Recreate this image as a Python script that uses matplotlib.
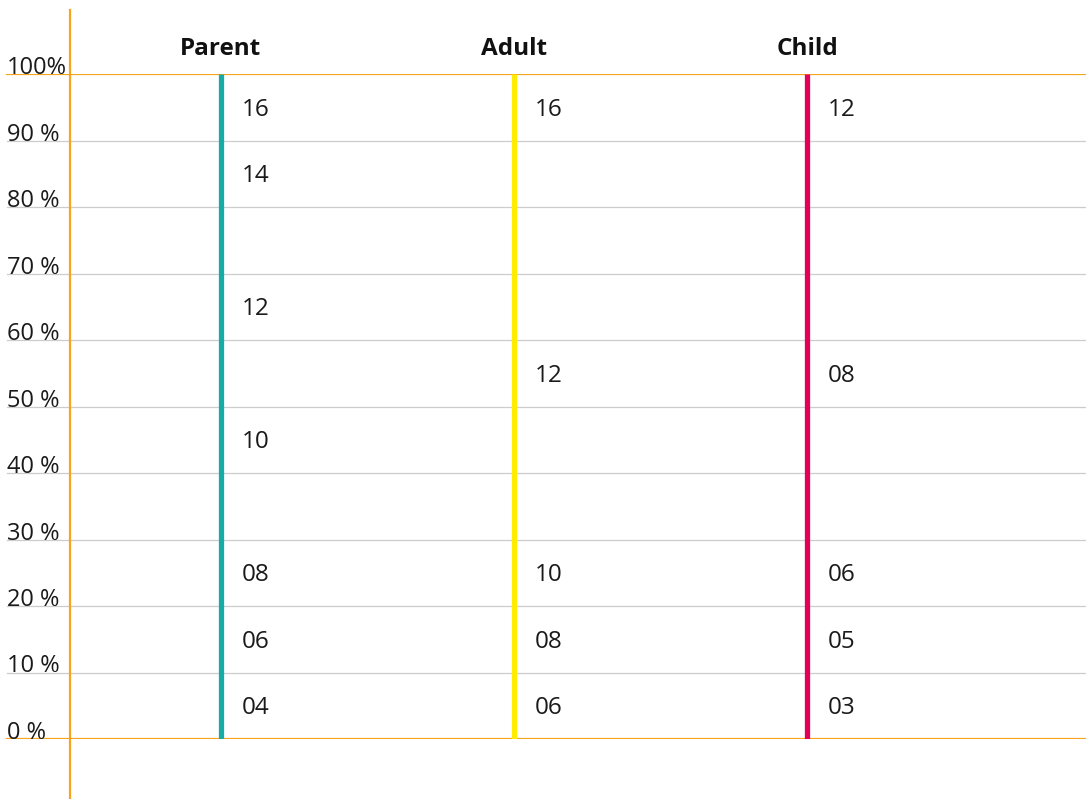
import matplotlib
matplotlib.use("Agg")
import matplotlib.pyplot as plt
from matplotlib.transforms import offset_copy

plt.rcParams['font.family'] = ['Open Sans', 'DejaVu Sans']

# Column groups and the values marked along each percentage scale
categories = ["Parent", "Adult", "Child"]
parent_pct = [5, 15, 25, 45, 65, 85, 95]
parent_labels = ["04", "06", "08", "10", "12", "14", "16"]
adult_pct = [5, 15, 25, 55, 95]
adult_labels = ["06", "08", "10", "12", "16"]
child_pct = [5, 15, 25, 55, 95]
child_labels = ["03", "05", "06", "08", "12"]
y_ticks = list(range(0, 101, 10))
y_tick_labels = [f"{t} %" for t in y_ticks[:-1]] + ["100%"]

series = [(parent_pct, parent_labels), (adult_pct, adult_labels), (child_pct, child_labels)]
colors = ["#16aba6", "#ffec00", "#e2005a"]
orange = "#f7a51c"
grid_grey = "#cccccc"
text_col = "#1a1a1a"

fig = plt.figure(figsize=(10.86, 7.99), dpi=100)
ax = fig.add_axes([0, 60 / 799, 1, 665 / 799])
ax.set_xlim(-221 / 293, (1086 - 221) / 293)
ax.set_ylim(0, 100)
ax.axis("off")

# Horizontal grid with orange bounds at 0 % and 100 %
x0 = 7 / 1086
for t in y_ticks:
    if t in (0, 100):
        ax.axhline(t, xmin=x0, xmax=1, color=orange, lw=1.6, zorder=3)
    else:
        ax.axhline(t, xmin=x0, xmax=1, color=grid_grey, lw=0.9, zorder=1)

# Percentage labels sitting on each gridline
for t, lab in zip(y_ticks, y_tick_labels):
    ax.text(x0, t, lab, transform=ax.get_yaxis_transform(), ha="left", va="baseline",
            fontsize=17, color=text_col)

# Vertical orange axis line extending past the plot area
ax.plot([-151 / 293, -151 / 293], [-9.0, 109.6], color=orange, lw=1.6, clip_on=False, zorder=3)

# Column lines, headings and value labels
for i, (cat, (pcts, labs), col) in enumerate(zip(categories, series, colors)):
    ax.plot([i, i], [0, 100], color=col, lw=3.8, solid_capstyle="butt", zorder=4)
    ax.text(i, 102.86, cat, ha="center", va="baseline", fontsize=17.5, fontweight="bold",
            color="#111111", clip_on=False)
    tr = offset_copy(ax.transData, fig=fig, x=21, y=-8.3, units="dots")
    for p, lab in zip(pcts, labs):
        ax.text(i, p, lab, transform=tr, ha="left", va="baseline", fontsize=17.5, color=text_col)

fig.savefig("out.png", dpi=100)
